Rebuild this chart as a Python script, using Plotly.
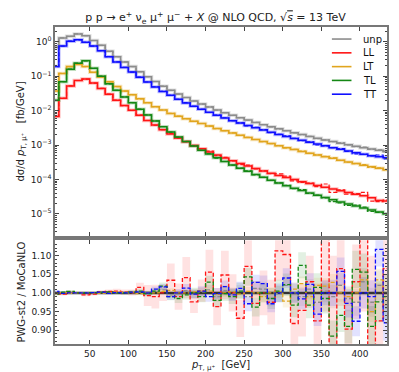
import numpy as np
import plotly.graph_objects as go
from plotly.subplots import make_subplots

# bins of 10 GeV in pT of the muon
bin_edges = list(range(0, 450, 10))

# MoCaNLO differential cross sections [fb/GeV]
unp = [0.7, 1.3, 1.45, 1.69, 1.51, 1.09, 0.79, 0.53, 0.37, 0.26,
       0.19, 0.135, 0.097, 0.070, 0.051, 0.039, 0.0302, 0.0239, 0.0191, 0.0155,
       0.0127, 0.0105, 0.0087, 0.0073, 0.0062, 0.0053, 0.00454, 0.00392, 0.0034, 0.00296,
       0.00259, 0.00227, 0.00201, 0.00178, 0.00158, 0.00141, 0.00126, 0.00113, 0.00102, 0.00092,
       0.00084, 0.00077, 0.00071, 0.00066]
LL = [0.0068, 0.023, 0.052, 0.075, 0.083, 0.063, 0.044, 0.030, 0.020, 0.014,
      0.0102, 0.0073, 0.0052, 0.0038, 0.0028, 0.0021, 0.0016, 0.00124, 0.000975, 0.000778,
      0.000627, 0.000511, 0.00042, 0.000348, 0.000291, 0.000245, 0.000208, 0.000177, 0.000152, 0.000131,
      0.000114, 0.000099, 0.0000865, 0.000076, 0.000067, 0.000059, 0.0000525, 0.0000468, 0.0000417, 0.0000374,
      0.0000336, 0.0000295, 0.0000245, 0.0000235]
LT = [0.037, 0.12, 0.19, 0.22, 0.19, 0.13, 0.095, 0.069, 0.05, 0.037,
      0.029, 0.022, 0.017, 0.013, 0.0104, 0.0083, 0.0069, 0.0058, 0.0049, 0.0042,
      0.00355, 0.00302, 0.0026, 0.00224, 0.00193, 0.00166, 0.00145, 0.00126, 0.0011, 0.00096,
      0.00084, 0.00074, 0.00065, 0.00058, 0.00051, 0.00046, 0.00041, 0.00036, 0.00032, 0.00029,
      0.00026, 0.000234, 0.000211, 0.00019]
TL = [0.020, 0.069, 0.16, 0.24, 0.28, 0.17, 0.10, 0.06, 0.039, 0.025,
      0.017, 0.011, 0.0075, 0.005, 0.0034, 0.0024, 0.00172, 0.00126, 0.00094, 0.00071,
      0.000545, 0.000424, 0.000333, 0.000264, 0.000212, 0.000172, 0.00014, 0.000115, 0.000095, 0.000079,
      0.000066, 0.000056, 0.0000474, 0.0000404, 0.0000346, 0.0000297, 0.0000256, 0.0000222, 0.0000193, 0.0000169,
      0.0000148, 0.000013, 0.0000114, 0.0000101]
TT = [0.19, 0.75, 1.04, 1.14, 0.97, 0.75, 0.55, 0.37, 0.26, 0.18,
      0.132, 0.094, 0.068, 0.049, 0.036, 0.028, 0.0213, 0.0168, 0.01345, 0.0109,
      0.0089, 0.0074, 0.0061, 0.0051, 0.00434, 0.0037, 0.00316, 0.00272, 0.00235, 0.00204,
      0.00178, 0.00156, 0.00137, 0.00121, 0.00107, 0.00095, 0.00084, 0.00075, 0.00067, 0.0006,
      0.00054, 0.00049, 0.00046, 0.00043]

# PWG-st2 / MoCaNLO ratios and their MC errors
r_unp = [1.001, 1.0, 1.0, 1.0, 1.001, 1.0, 1.001, 1.002, 1.0, 1.001,
         1.0, 1.002, 0.999, 1.004, 1.008, 0.995, 1.0, 1.006, 0.997, 1.003,
         1.008, 0.99, 1.006, 0.998, 1.004, 0.99, 1.012, 1.01, 0.985, 0.998,
         1.02, 1.0, 0.99, 1.01, 0.975, 1.005, 0.99, 1.02, 0.985, 0.975,
         1.03, 0.975, 1.02, 0.96]
e_unp = [0.002, 0.002, 0.002, 0.002, 0.002, 0.002, 0.002, 0.002, 0.003, 0.003,
         0.003, 0.004, 0.005, 0.006, 0.007, 0.008, 0.009, 0.01, 0.011, 0.012,
         0.013, 0.014, 0.015, 0.016, 0.017, 0.018, 0.019, 0.02, 0.021, 0.022,
         0.023, 0.024, 0.025, 0.027, 0.028, 0.03, 0.031, 0.033, 0.034, 0.036,
         0.037, 0.039, 0.04, 0.042]
r_LL = [0.998, 0.997, 1.003, 1.0, 0.995, 0.997, 1.003, 1.004, 1.005, 1.002,
        1.001, 1.015, 0.993, 0.99, 1.0, 1.034, 0.99, 1.041, 0.976, 1.006,
        1.056, 0.963, 1.048, 1.0, 0.932, 1.071, 0.972, 1.0, 0.975, 1.113,
        1.103, 0.918, 0.953, 1.03, 0.925, 1.25, 0.8, 1.065, 0.903, 1.03,
        1.25, 0.8, 0.925, 1.065]
e_LL = [0.004, 0.004, 0.003, 0.003, 0.004, 0.004, 0.004, 0.005, 0.006, 0.007,
        0.008, 0.012, 0.028, 0.032, 0.022, 0.045, 0.035, 0.055, 0.03, 0.03,
        0.06, 0.05, 0.065, 0.05, 0.05, 0.07, 0.06, 0.06, 0.06, 0.08,
        0.08, 0.08, 0.07, 0.07, 0.1, 0.3, 0.3, 0.1, 0.1, 0.1,
        0.3, 0.3, 0.1, 0.1]
r_LT = [1.0, 1.001, 0.999, 1.0, 1.001, 1.0, 0.999, 1.0, 1.002, 1.001,
        1.003, 0.998, 1.001, 1.0, 1.004, 1.007, 1.0, 1.0, 1.003, 1.006,
        1.005, 0.996, 1.0, 1.003, 0.997, 1.004, 1.0, 0.99, 1.0, 1.003,
        0.978, 1.01, 1.025, 0.99, 1.02, 1.018, 1.028, 1.0, 0.99, 1.0,
        1.035, 0.95, 1.035, 0.99]
e_LT = [0.003, 0.002, 0.002, 0.002, 0.002, 0.002, 0.002, 0.002, 0.003, 0.003,
        0.003, 0.004, 0.004, 0.005, 0.005, 0.006, 0.006, 0.007, 0.008, 0.008,
        0.009, 0.01, 0.01, 0.011, 0.012, 0.012, 0.013, 0.014, 0.015, 0.016,
        0.017, 0.018, 0.019, 0.02, 0.021, 0.022, 0.023, 0.024, 0.025, 0.026,
        0.027, 0.028, 0.03, 0.03]
r_TL = [0.997, 1.002, 1.004, 1.0, 1.0, 1.001, 1.002, 1.003, 1.0, 1.0,
        1.002, 1.005, 0.998, 1.005, 1.018, 0.99, 0.985, 0.995, 1.0, 0.99,
        1.029, 0.98, 0.998, 0.99, 1.005, 1.043, 0.962, 1.0, 0.985, 1.005,
        1.022, 0.967, 1.074, 0.967, 1.015, 0.985, 0.884, 0.94, 0.91, 1.063,
        1.056, 0.91, 0.976, 0.99]
e_TL = [0.004, 0.003, 0.003, 0.002, 0.002, 0.002, 0.003, 0.003, 0.003, 0.004,
        0.005, 0.006, 0.007, 0.008, 0.01, 0.01, 0.012, 0.013, 0.014, 0.015,
        0.017, 0.018, 0.02, 0.02, 0.022, 0.024, 0.025, 0.026, 0.028, 0.03,
        0.03, 0.032, 0.035, 0.035, 0.038, 0.04, 0.042, 0.045, 0.045, 0.05,
        0.05, 0.055, 0.055, 0.06]
r_TT = [1.004, 0.999, 1.0, 1.0, 1.0, 1.001, 1.002, 0.999, 1.001, 1.0,
        1.002, 1.003, 1.0, 1.01, 1.016, 0.99, 1.0, 1.013, 0.997, 1.005,
        0.99, 0.998, 1.017, 0.995, 1.012, 0.971, 1.028, 1.025, 0.971, 1.0,
        1.04, 1.0, 0.984, 1.023, 0.943, 1.0, 1.0, 1.058, 0.972, 0.924,
        1.0, 0.99, 1.117, 0.92]
e_TT = [0.003, 0.002, 0.002, 0.002, 0.002, 0.002, 0.002, 0.003, 0.003, 0.003,
        0.004, 0.005, 0.006, 0.007, 0.008, 0.009, 0.01, 0.011, 0.012, 0.013,
        0.014, 0.015, 0.016, 0.017, 0.018, 0.02, 0.021, 0.022, 0.023, 0.025,
        0.026, 0.027, 0.028, 0.03, 0.032, 0.033, 0.035, 0.037, 0.038, 0.04,
        0.042, 0.044, 0.046, 0.048]

series = [
    ("unp", unp, r_unp, e_unp, (140, 140, 140)),
    ("LL", LL, r_LL, e_LL, (255, 20, 20)),
    ("LT", LT, r_LT, e_LT, (225, 165, 30)),
    ("TL", TL, r_TL, e_TL, (20, 135, 20)),
    ("TT", TT, r_TT, e_TT, (15, 15, 255)),
]

decades = [0, -1, -2, -3, -4, -5]


def step(vals):
    v = list(vals)
    return bin_edges, v + [v[-1]]


def rgb(c, a=1.0):
    return "rgba(%d,%d,%d,%s)" % (c[0], c[1], c[2], a)


fig = make_subplots(rows=2, cols=1, shared_xaxes=False, vertical_spacing=0.0)

# upper panel: distributions
for name, moca, ratio, err, col in series:
    x, y = step(moca)
    fig.add_trace(go.Scatter(x=x, y=y, mode="lines", line=dict(shape="hv", color=rgb(col, 0.28), width=3.5),
                             showlegend=False, hoverinfo="skip"), row=1, col=1)
for name, moca, ratio, err, col in series:
    x, y = step(moca)
    fig.add_trace(go.Scatter(x=x, y=y, mode="lines", name=name, showlegend=False,
                             line=dict(shape="hv", color=rgb(col), width=1.5)), row=1, col=1)
    pwg = np.array(moca) * np.array(ratio)
    x, y = step(pwg)
    fig.add_trace(go.Scatter(x=x, y=y, mode="lines", showlegend=False,
                             line=dict(shape="hv", color=rgb(col), width=1.2, dash="4px,2px")), row=1, col=1)

# lower panel: ratio with MC error bands
for name, moca, ratio, err, col in series:
    lo = np.array(ratio) - np.array(err)
    hi = np.array(ratio) + np.array(err)
    x, y = step(lo)
    fig.add_trace(go.Scatter(x=x, y=y, mode="lines", line=dict(shape="hv", width=0),
                             showlegend=False, hoverinfo="skip"), row=2, col=1)
    x, y = step(hi)
    fig.add_trace(go.Scatter(x=x, y=y, mode="lines", line=dict(shape="hv", width=0),
                             fill="tonexty", fillcolor=rgb(col, 0.12),
                             showlegend=False, hoverinfo="skip"), row=2, col=1)

fig.add_trace(go.Scatter(x=[bin_edges[0], bin_edges[-1]], y=[1, 1], mode="lines",
                         line=dict(color="#333333", width=2.5), showlegend=False), row=2, col=1)

for name, moca, ratio, err, col in series:
    x, y = step(ratio)
    fig.add_trace(go.Scatter(x=x, y=y, mode="lines", showlegend=False,
                             line=dict(shape="hv", color=rgb(col), width=1.3, dash="4px,2px")), row=2, col=1)

# legend drawn by hand (matplotlib-like compact rows)
leg_x0, leg_x1, leg_tx = 0.834, 0.893, 0.922
leg_y0, leg_dy = 0.962, 0.0435
for i, (name, moca, ratio, err, col) in enumerate(series):
    yy = leg_y0 - i * leg_dy
    fig.add_shape(type="line", xref="paper", yref="paper", x0=leg_x0, x1=leg_x1, y0=yy, y1=yy,
                  line=dict(color=rgb(col), width=1.6))
    fig.add_annotation(xref="paper", yref="paper", x=leg_tx, y=yy, text=name, showarrow=False,
                       xanchor="left", yanchor="middle", font=dict(size=10, color="#111111"))

frame = dict(showline=True, linecolor="#777777", linewidth=1.5, mirror="allticks",
             ticks="inside", tickcolor="#444444", showgrid=False, zeroline=False,
             tickfont=dict(size=9, color="#222222"))

fig.update_xaxes(range=[5, 435], tickvals=[50, 100, 150, 200, 250, 300, 350, 400], ticklen=4, **frame)
fig.update_xaxes(showticklabels=False, domain=[0, 1], row=1, col=1)
fig.update_xaxes(domain=[0, 1], row=2, col=1,
                 title=dict(text="<i>p</i><sub>T, μ⁺</sub>  [GeV]", font=dict(size=10), standoff=2))

fig.update_yaxes(type="log", range=[-5.64, 0.43],
                 tickvals=[10.0 ** d for d in decades],
                 ticktext=["10<sup>%d</sup>" % d if d == 0 else "10<sup>−%d</sup>" % (-d) for d in decades],
                 ticklen=4,
                 minor=dict(ticks="inside", ticklen=2, dtick="D1", tickcolor="#444444"),
                 domain=[0.341, 1.0], row=1, col=1,
                 title=dict(text="dσ/d <i>p</i><sub>T, μ⁺</sub>   [fb/GeV]", font=dict(size=10), standoff=4),
                 **frame)
fig.update_yaxes(range=[0.863, 1.141], tickvals=[0.90, 0.95, 1.00, 1.05, 1.10], tickformat=".2f", ticklen=4,
                 minor=dict(ticks="inside", ticklen=2, dtick=0.01, tickcolor="#444444"),
                 domain=[0.0, 0.327], row=2, col=1,
                 title=dict(text="PWG-st2 / MoCaNLO", font=dict(size=10), standoff=4),
                 **frame)

fig.update_layout(
    width=399, height=372,
    margin=dict(l=41, r=20, t=19, b=28),
    paper_bgcolor="white", plot_bgcolor="white",
    font=dict(family="DejaVu Sans", color="#222222"),
    title=dict(text="p p → e<sup>+</sup> ν<sub>e</sub> μ<sup>+</sup> μ<sup>−</sup> + <i>X</i> @ NLO QCD, "
                    "√<span style='text-decoration:overline'><i>s</i></span> = 13 TeV",
               x=0.52, xanchor="center", y=0.985, yanchor="top", font=dict(size=11)),
    showlegend=False,
)

fig.write_html("out.html")
